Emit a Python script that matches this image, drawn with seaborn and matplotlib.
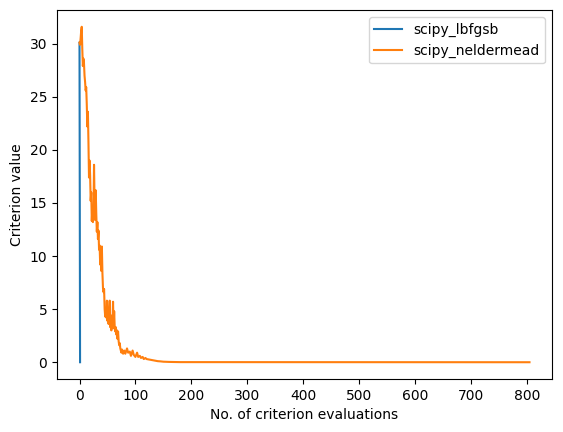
import matplotlib
matplotlib.use("Agg")
import matplotlib.pyplot as plt
import seaborn as sns
import pandas as pd

lbfgsb_x = [0, 1]
lbfgsb_y = [30.1, 0.0]

nm_x = [0, 1, 2, 3, 4, 5, 6, 7, 8, 9, 10, 11, 12, 13, 14, 15, 16, 17, 18, 19,
        20, 21, 22, 23, 24, 25, 26, 27, 28, 29, 30, 31, 32, 33, 34, 35, 36, 37, 38, 39,
        40, 41, 42, 43, 44, 45, 46, 47, 48, 49, 50, 51, 52, 53, 54, 55, 56, 57, 58, 59,
        60, 61, 62, 63, 64, 65, 66, 67, 68, 69, 70, 71, 72, 73, 74, 75, 76, 77, 78, 80,
        82, 85, 87, 90, 92, 95, 97, 100, 103, 105, 108, 110, 113, 115, 118, 120, 125, 130,
        135, 140, 145, 150, 160, 180, 805]
nm_y = [30.1, 29.9, 30.5, 31.2, 31.6, 29.5, 27.9, 28.6, 28.2, 27.0, 26.4, 25.6, 25.9, 24.3,
        22.2, 23.6, 20.8, 17.4, 19.0, 17.6, 15.2, 16.0, 13.3, 14.5, 13.2, 14.0, 18.6, 15.0,
        13.4, 16.2, 14.0, 12.3, 13.2, 11.6, 12.4, 10.6, 11.0, 9.2, 10.3, 8.6, 10.9, 8.4,
        7.0, 6.6, 6.9, 5.0, 4.3, 4.6, 4.2, 5.8, 3.9, 4.6, 3.6, 4.7, 5.8, 3.3, 4.0, 3.0,
        4.4, 3.6, 5.7, 3.2, 4.8, 3.3, 2.9, 3.3, 2.6, 3.0, 2.2, 2.9, 2.0, 1.6, 1.8, 1.3,
        1.1, 0.9, 1.2, 1.0, 0.8, 1.1, 0.8, 1.3, 0.9, 1.0, 0.6, 1.1, 0.7, 0.5, 0.9, 0.5,
        0.6, 0.4, 0.5, 0.3, 0.4, 0.3, 0.25, 0.2, 0.15, 0.1, 0.08, 0.05, 0.03, 0.01, 0.0]

df = pd.concat([
    pd.DataFrame({"x": lbfgsb_x, "y": lbfgsb_y, "algo": "scipy_lbfgsb"}),
    pd.DataFrame({"x": nm_x, "y": nm_y, "algo": "scipy_neldermead"}),
], ignore_index=True)

fig = plt.figure(figsize=(5.63, 4.32), dpi=100)
ax = fig.add_axes([57 / 563, 1 - 379 / 432, 495 / 563, 369 / 432])
sns.lineplot(data=df, x="x", y="y", hue="algo", ax=ax,
             palette=["#1f77b4", "#ff7f0e"], estimator=None, sort=False)
ax.set_xlabel("No. of criterion evaluations")
ax.set_ylabel("Criterion value")
ax.legend(loc="upper right")
ax.set_xticks([0, 100, 200, 300, 400, 500, 600, 700, 800])
fig.savefig("out.png", dpi=100)
